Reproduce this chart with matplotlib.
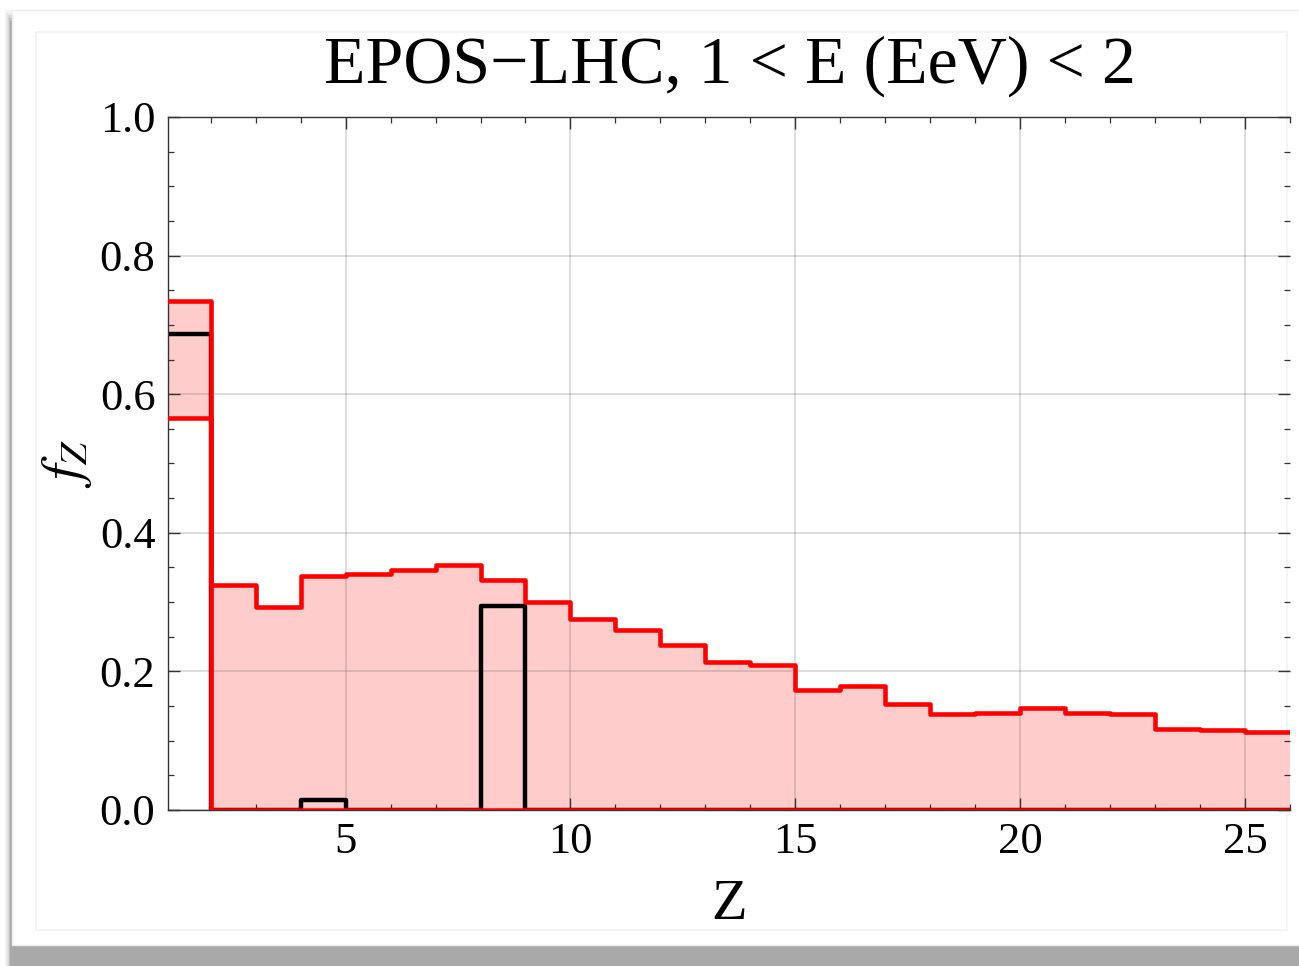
import matplotlib
matplotlib.use("Agg")
import matplotlib.pyplot as plt
from matplotlib.patches import Rectangle
from matplotlib.ticker import MultipleLocator, FormatStrFormatter
import numpy as np

plt.rcParams['font.family'] = ['Liberation Serif', 'DejaVu Serif']
plt.rcParams['mathtext.fontset'] = 'stix'

# bin edges in Z (charge number), one bin per unit
z_edges = list(range(1, 27))

# upper edge of the red band (model range), one per bin
band_upper = [0.734, 0.324, 0.293, 0.338, 0.341, 0.347, 0.354, 0.332, 0.300,
              0.276, 0.260, 0.238, 0.214, 0.209, 0.173, 0.179, 0.153, 0.138,
              0.140, 0.147, 0.140, 0.139, 0.117, 0.115, 0.113]
# lower edge of the red band
band_lower = [0.566] + [0.0] * 24
# best-fit fractions (black)
best_fit = [0.687, 0.0, 0.0, 0.014, 0.0, 0.0, 0.0, 0.294, 0.0, 0.0, 0.0, 0.0,
            0.0, 0.0, 0.0, 0.0, 0.0, 0.0, 0.0, 0.0, 0.0, 0.0, 0.0, 0.0, 0.0]

title = "EPOS\u2212LHC, 1 < E (EeV) < 2"

fig = plt.figure(figsize=(12.99, 9.66), dpi=100)

# card with a soft shadow, like the screenshot
for i, a in enumerate([0.04, 0.05, 0.07, 0.10, 0.12]):
    fig.patches.append(Rectangle((0.004 + i * 0.001, 0.0), 1.0, 0.99 - i * 0.003,
                                 transform=fig.transFigure, color='black',
                                 alpha=a, lw=0, zorder=-5))
fig.patches.append(Rectangle((0.009, 0.022), 1.0, 0.968, transform=fig.transFigure,
                             facecolor='white', edgecolor='#eeeeee', lw=1, zorder=-4))
fig.patches.append(Rectangle((0.028, 0.037), 0.963, 0.930, transform=fig.transFigure,
                             facecolor='white', edgecolor='#f2f2f2', lw=1.2, zorder=-3))

ax = fig.add_axes([0.1293, 0.1615, 0.8638, 0.7174])
ax.patch.set_alpha(0)

x = np.array(z_edges)
up = np.append(band_upper, band_upper[-1])
lo = np.append(band_lower, band_lower[-1])
bf = np.append(best_fit, best_fit[-1])

ax.fill_between(x, lo, up, step='post', color='#ffcccc', lw=0, zorder=0.4)
ax.step(x, bf, where='post', color='black', lw=3.2, zorder=2)
ax.step(x, up, where='post', color='#ff0000', lw=3.3, zorder=3)
ax.step(x, lo, where='post', color='#ff0000', lw=3.3, zorder=3)

ax.set_xlim(1.05, 26)
ax.set_ylim(0, 1.0)
ax.xaxis.set_major_locator(MultipleLocator(5))
ax.xaxis.set_minor_locator(MultipleLocator(1))
ax.yaxis.set_major_locator(MultipleLocator(0.2))
ax.yaxis.set_minor_locator(MultipleLocator(0.05))
ax.yaxis.set_major_formatter(FormatStrFormatter('%.1f'))

ax.set_axisbelow(True)
ax.grid(True, which='major', color='#555555', alpha=0.22, lw=1.3)

ax.tick_params(which='both', direction='in', top=True, right=True,
               color='#333333', labelsize=32)
ax.tick_params(which='major', length=8.5, width=1.0, pad=9)
ax.tick_params(which='minor', length=4.3, width=0.9)
for s in ax.spines.values():
    s.set_color('#333333')
    s.set_linewidth(1.0)
ax.spines['right'].set_visible(False)

ax.set_xlabel('Z', fontsize=42, labelpad=12)
ax.set_ylabel(r'$f_Z$', fontsize=40, labelpad=4)
fig.text(0.5616, 0.915, title, fontsize=49, ha='center', va='baseline')

fig.savefig('out.png', dpi=100)
